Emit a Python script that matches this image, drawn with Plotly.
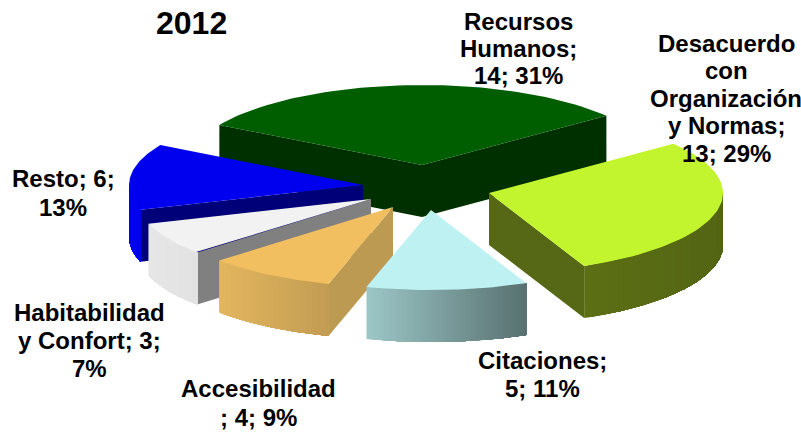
import math
import plotly.graph_objects as go

# ---- data ----
categories = ["Recursos Humanos", "Desacuerdo con Organización y Normas", "Citaciones",
              "Accesibilidad", "Habitabilidad y Confort", "Resto"]
values = [14, 13, 5, 4, 3, 6]
title_text = "2012"
label_lines = [
    ["Recursos", "Humanos;", "14; 31%"],
    ["Desacuerdo", "con", "Organización", "y Normas;", "13; 29%"],
    ["Citaciones;", "5; 11%"],
    ["Accesibilidad", "; 4; 9%"],
    ["Habitabilidad", "y Confort; 3;", "7%"],
    ["Resto; 6;", "13%"],
]

# ---- styling / geometry of the tilted pie ----
W, H = 801, 432
RX, RY, DEPTH = 234, 80, 52
START_ANGLE = 150
apex = [(422, 165), (489, 193), (431, 210), (393, 207), (371, 199), (363, 185)]
top_col = ["#005E00", "#C3F52E", "#BEF2F2", "#F2BF60", "#F2F2F2", "#0000EE"]
cut_col = ["#003000", "#566815", "#9CC6C6", "#BD9A52", "#808080", "#000078"]
wall_a = ["#003000", "#5C6F14", "#9CC6C6", "#E3B65E", "#E6E6E6", "#0000EE"]
wall_b = ["#003000", "#536514", "#587070", "#C29C54", "#E2E2E2", "#0000EE"]
draw_order = [0, 5, 4, 3, 1, 2]
label_anchor = [(518, 21), (726, 43), (542, 360), (258, 388), (89, 312), (63, 178)]
line_gap = [27, 27.5, 28, 29, 28, 29]
FONT = "Liberation Sans, Arial, sans-serif"
LABEL_SIZE, TITLE_SIZE = 24, 32
STRIPS = 60

fig = go.Figure()


def poly(pts, color):
    xs = [p[0] for p in pts] + [pts[0][0]]
    ys = [p[1] for p in pts] + [pts[0][1]]
    fig.add_trace(go.Scatter(x=xs, y=ys, mode="lines", fill="toself", fillcolor=color,
                             line=dict(color=color, width=0), hoverinfo="skip",
                             showlegend=False))


def mix(a, b, t):
    ca = [int(a[i:i + 2], 16) for i in (1, 3, 5)]
    cb = [int(b[i:i + 2], 16) for i in (1, 3, 5)]
    return "#" + "".join(f"{round(x + (y - x) * t):02X}" for x, y in zip(ca, cb))


total = sum(values)
angles = []
cur = START_ANGLE
for v in values:
    angles.append((cur, cur - 360 * v / total))
    cur -= 360 * v / total


def rim(i, a):
    cx, cy = apex[i]
    r = math.radians(a)
    return (cx + RX * math.cos(r), cy - RY * math.sin(r))


def down(p):
    return (p[0], p[1] + DEPTH)


for i in draw_order:
    a0, a1 = angles[i]
    c = apex[i]
    # cut faces that look toward the viewer
    if math.sin(math.radians(a0 + 90)) < 0:
        p = rim(i, a0)
        poly([c, p, down(p), down(c)], cut_col[i])
    if math.sin(math.radians(a1 - 90)) < 0:
        p = rim(i, a1)
        poly([c, p, down(p), down(c)], cut_col[i])
    # outer wall: front half of the rim only; each strip paints to the end of the
    # wall and the next one overlaps it, which leaves no seams in the shading
    s, e = max(a1, -180), min(a0, 0)
    if e > s:
        xa, xb = rim(i, e)[0], rim(i, s)[0]
        left, right = min(xa, xb), max(xa, xb)
        ordered = [s + (e - s) * j / 120 for j in range(121)]
        ordered.sort(key=lambda u: rim(i, u)[0])   # left to right on screen
        for j in range(STRIPS):
            part = ordered[j * len(ordered) // STRIPS:]
            rim_pts = [rim(i, u) for u in part]
            t = (rim_pts[0][0] - left) / max(right - left, 1)
            poly(rim_pts + [down(q) for q in reversed(rim_pts)], mix(wall_a[i], wall_b[i], t))
    # top face
    steps = 60
    poly([c] + [rim(i, a0 + (a1 - a0) * t / steps) for t in range(steps + 1)], top_col[i])

annotations = []
for lines, (ax, ay), gap in zip(label_lines, label_anchor, line_gap):
    for n, ln in enumerate(lines):
        annotations.append(dict(x=ax, y=ay + gap * n, text=ln, showarrow=False, xanchor="center",
                                yanchor="middle",
                                font=dict(family=FONT, size=LABEL_SIZE, color="#000000", weight="bold")))
annotations.append(dict(x=191, y=23, text=title_text, showarrow=False, xanchor="center", yanchor="middle",
                        font=dict(family=FONT, size=TITLE_SIZE, color="#000000", weight="bold")))

fig.update_layout(
    width=W, height=H, margin=dict(l=0, r=0, t=0, b=0), showlegend=False,
    paper_bgcolor="#FFFFFF", plot_bgcolor="#FFFFFF", annotations=annotations,
    xaxis=dict(range=[0, W], visible=False, fixedrange=True),
    yaxis=dict(range=[H, 0], visible=False, fixedrange=True),
)
fig.write_html("out.html", post_script="document.body.style.margin='0';",
               config={"displayModeBar": False})
